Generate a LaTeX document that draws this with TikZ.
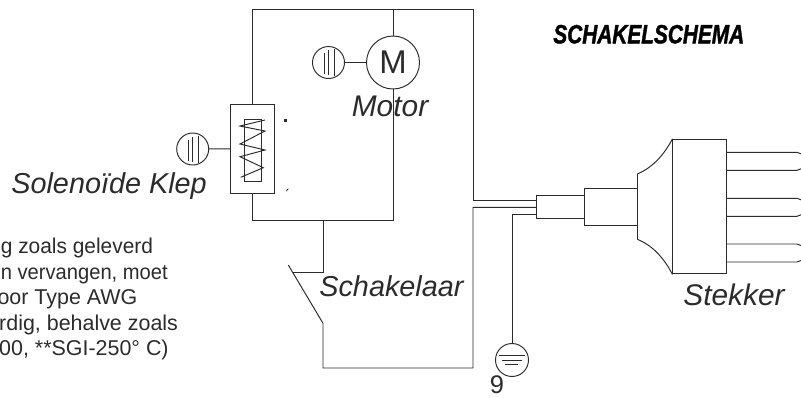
\documentclass[tikz,border=0pt]{standalone}
\usepackage{fontspec}
\setmainfont{Liberation Sans}
\newfontfamily\kopfont[BoldItalicFeatures={FakeBold=1.6}]{Liberation Sans}
\definecolor{inkt}{HTML}{2B2B2B}
\tikzset{
  wire/.style={draw=inkt,line width=0.55pt},
  earth/.style={circle,draw=inkt,line width=0.55pt,inner sep=0pt,minimum size=0.64cm},
  part/.style={rectangle,draw=inkt,line width=0.55pt,inner sep=0pt},
  naam/.style={text=inkt,font=\fontsize{16.4}{18}\selectfont\itshape,anchor=base west,inner sep=0pt},
  opm/.style={text=inkt,font=\fontsize{12.2}{14}\selectfont,anchor=base east,inner sep=0pt}
}
\begin{document}
\begin{tikzpicture}[x=0.02cm,y=-0.02cm]
\useasboundingbox (0,0) rectangle (801,397);

\coordinate (TL) at (252.5,9.5);
\coordinate (TM) at (393,9.5);
\coordinate (TR) at (473,9.5);
\coordinate (BL) at (252.5,220.7);
\coordinate (BS) at (323,220.7);
\coordinate (BM) at (393,220.7);

\coordinate (W1) at (473,200.3);
\coordinate (W2) at (536.7,200.3);
\coordinate (W3) at (473,207.3);
\coordinate (W4) at (536.7,207.3);
\coordinate (W5) at (473,368);
\coordinate (W6) at (323,368);
\coordinate (W7) at (512,214.7);
\coordinate (W8) at (536.7,214.7);

\coordinate (S1) at (323,272.3);
\coordinate (S2) at (293,272.3);
\coordinate (S3) at (288.3,265);
\coordinate (S4) at (323,323.3);

\node[part,minimum width=0.872cm,minimum height=1.78cm] (klep) at (252.5,148.8) {};
\node[circle,draw=inkt,line width=0.55pt,inner sep=0pt,minimum size=1.06cm,text=inkt,font=\fontsize{18.7}{20}\selectfont] (motor) at (393,62.5) {\raisebox{-1.2pt}{M}};
\node[earth] (aardeM) at (328.5,62.5) {};
\node[earth] (aardeK) at (192.7,149) {};
\node[earth,minimum size=0.66cm] (aardeS) at (512,360) {};

\node[part,minimum width=0.952cm,minimum height=0.46cm] (huls) at (560.5,206.8) {};
\node[part,minimum width=1.06cm,minimum height=0.748cm] (kraag) at (610.8,207) {};
\node[part,minimum width=1.066cm,minimum height=2.694cm] (stekker) at (699.6,206.6) {};

% wiring
\draw[wire] (BL) -- (klep);
\draw[wire] (klep) -- (TL) -- (TR) -- (W1) -- (W2);
\draw[wire] (TM) -- (motor);
\draw[wire] (motor) -- (BM) -- (BL);
\draw[wire] (BS) -- (S1) -- (S2);
\draw[wire] (S3) -- (S4) -- (W6) -- (W5) -- (W3) -- (W4);
\draw[wire] (W8) -- (W7) -- (aardeS);
\draw[wire] (aardeM) -- (motor);
\draw[wire] (aardeK) -- (klep);

% earth symbols
\foreach \s/\x/\y in {1/328.5/62.5,2/192.7/149}
{
  \begin{scope}[shift={(\x,\y)}]
    \draw[wire,line width=0.35pt] (-4.5,-9.5) -- (-4.5,11.5);
    \draw[wire,line width=0.35pt] (0,-12.5) -- (0,12.5);
    \draw[wire,line width=0.35pt] (5.5,-13.5) -- (5.5,13.5);
  \end{scope}
}
\draw[wire] (499,355) -- (525,355);
\draw[wire] (502,360) -- (522,360);
\draw[wire] (505,364.3) -- (518,364.3);

% solenoid coil
\draw[wire,line width=0.4pt] (244,119) rectangle (261,181.3);
\draw[wire] (265,120) -- (240,126) -- (265,131) -- (240,144) -- (265,150)
  -- (240,156.7) -- (263.3,167.7) -- (240.7,177.3);

% stray marks
\fill[inkt] (284.3,118.9) rectangle (287.1,121.7);
\fill[inkt] (286,191.5) -- (287,189) -- (288.8,188.7) -- (287.2,190.6) -- cycle;

% plug
\coordinate (F1) at (637.3,174);
\coordinate (F2) at (637.3,239.3);
\draw[wire] (F1) .. controls (654,167) and (665,153) .. (stekker.north west);
\draw[wire] (F2) .. controls (654,246) and (665,260) .. (stekker.south west);
\draw[wire] (F1) -- (F2);

\foreach \y in {152.3,198.3,244}
{
  \draw[wire] (726.3,\y) -- (797,\y) -- (801,\y+1.5);
  \draw[wire] (726.3,\y+18) -- (797,\y+18) -- (801,\y+16.5);
}

% labels
\node[font=\fontsize{15}{17}\selectfont\kopfont\bfseries\itshape,text=black,anchor=base west,inner sep=0pt] (titel) at (553,43.3) {\scalebox{0.79}[1]{SCHAKELSCHEMA}};
\node[naam,font=\fontsize{17}{19}\selectfont\itshape] (lmotor) at (351.5,116) {Motor};
\node[naam] (lklep) at (11,193) {Solenoïde Klep};
\node[naam] (lschakel) at (319,296.7) {Schakelaar};
\node[naam,font=\fontsize{17}{19}\selectfont\itshape] (lstekker) at (683,305) {Stekker};

\node[opm,anchor=base west] (r1) at (0.5,253) {\scalebox{0.975}[1]{g zoals geleverd}};
\node[opm,anchor=base west] (r2) at (0.5,279) {\scalebox{0.94}[1]{n vervangen, moet}};
\node[opm] (r3) at (137.7,304.6) {oor Type AWG};
\node[opm] (r4) at (178.3,330) {rdig, behalve zoals};
\node[opm] (r5) at (169,355) {00, **SGI-250° C)};

\node[text=inkt,font=\fontsize{14.5}{16}\selectfont,anchor=base,inner sep=0pt] (blad) at (497,393.5) {9};

\end{tikzpicture}
\end{document}
